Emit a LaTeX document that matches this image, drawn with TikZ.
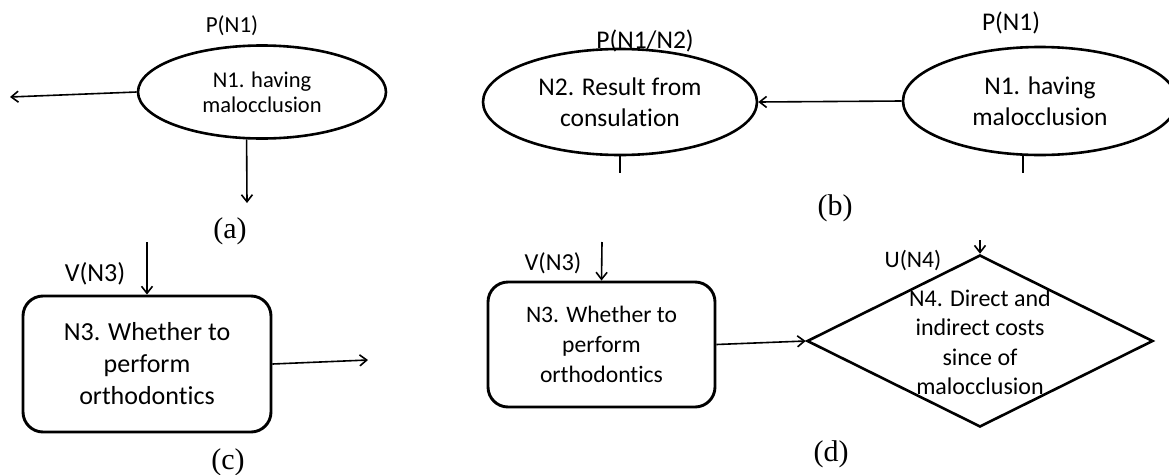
\documentclass[tikz,border=0pt]{standalone}
\usepackage{fontspec}
\setmainfont{Carlito}[Ligatures={NoCommon}]
\newfontfamily\capfont{Liberation Serif}
\usetikzlibrary{arrows.meta, shapes.geometric}

\begin{document}
\begin{tikzpicture}[x=1pt, y=-1pt,
    sz/.style 2 args={font=\fontsize{#1}{#2}\selectfont},
    chance/.style={draw, ellipse, line width=2.6pt, inner sep=0pt, align=center},
    decision/.style={draw, rounded corners=20pt, line width=2.9pt, inner sep=0pt, align=center},
    utility/.style={draw, diamond, line width=2.6pt, inner sep=0pt},
    lbl/.style={inner sep=0pt},
    captext/.style={inner sep=0pt, font=\capfont\fontsize{30}{34}\selectfont},
    arrow/.style={-{Straight Barb[length=7pt,width=11pt]}, line width=1.6pt},
    tickline/.style={line width=1.6pt}
]
\useasboundingbox (0,0) rectangle (1169,474);

\node[lbl, sz={23}{28}] (pa) at (232,26) {P(N1)};
\node[chance, minimum width=248pt, minimum height=93pt, sz={22.5}{25}] (n1a) at (262,92) {N1. having\\malocclusion};
\coordinate (aleft) at (10,97);
\coordinate (adown) at (247,203);
\node[captext] (capa) at (230,231) {(a)};

\node[lbl, sz={25.5}{30}] (pn12) at (645,41) {P(N1/N2)};
\node[chance, minimum width=274pt, minimum height=106pt, sz={25.5}{31}] (n2) at (620,102) {N2. Result from\\consulation};
\node[lbl, sz={25.5}{30}] (pn1) at (1011,23) {P(N1)};
\node[chance, minimum width=274pt, minimum height=108pt, sz={25.5}{31}] (n1b) at (1040,101) {N1. having\\malocclusion};
\coordinate (n2tail) at (620,173);
\coordinate (n1tail) at (1023,173);
\node[captext] (capb) at (835,208) {(b)};

\node[lbl, sz={26}{30}] (vc) at (95,274) {V(N3)};
\node[decision, minimum width=248pt, minimum height=136pt, sz={26}{32}] (n3c) at (147,364) {N3. Whether to\\perform\\orthodontics};
\coordinate (cin) at (147,242);
\coordinate (cout) at (368,360);
\node[captext] (capc) at (228,462) {(c)};

\node[lbl, sz={24.4}{29}] (vd) at (553,263) {V(N3)};
\node[decision, minimum width=227pt, minimum height=125pt, sz={23.6}{30}] (n3d) at (601.5,344.5) {N3. Whether to\\perform\\orthodontics};
\coordinate (din) at (602,242);
\node[utility, minimum width=346pt, minimum height=172pt] (n4) at (980,341) {};
\node[lbl, align=center, sz={24}{29.5}] (n4txt) at (980,342) {N4. Direct and\\indirect costs\\since of\\malocclusion};
\node[lbl, sz={23.6}{28}] (ud) at (913,260) {U(N4)};
\coordinate (uin) at (980,240);
\node[captext] (capd) at (831,454) {(d)};

\draw[arrow] (n1a.west) -- (aleft);
\draw[arrow] (n1a.252) -- (adown);
\draw[arrow] (n1b.west) -- (n2.east);
\draw[tickline] (n2.south) -- (n2tail);
\draw[tickline] (n1b.south -| n1tail) -- (n1tail);
\draw[arrow] (cin) -- (n3c.north);
\draw[arrow] (n3c.east) -- (cout);
\draw[arrow] (din) -- (n3d.north);
\draw[arrow] (n3d.east) -- (n4.west);
\draw[arrow] (uin) -- (n4.north);
\end{tikzpicture}
\end{document}
